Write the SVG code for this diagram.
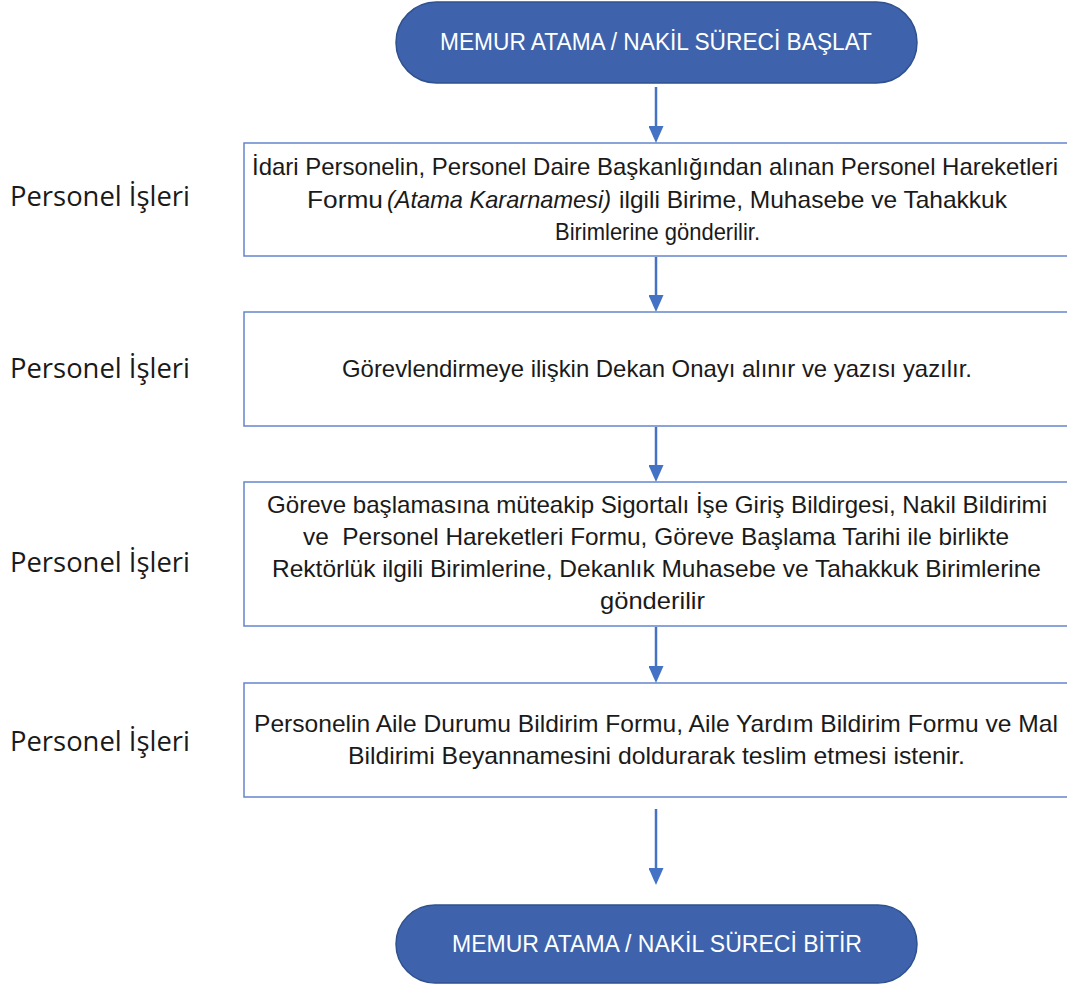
<svg xmlns="http://www.w3.org/2000/svg" width="1067" height="984" viewBox="0 0 1067 984">
<style>
.term{fill:#3E63AC;stroke:#2F528F;stroke-width:1.5}
.box{fill:#FFFFFF;stroke:#6485CB;stroke-width:1.5}
.tt{font-family:"Liberation Sans",Arial,sans-serif;font-size:23px;fill:#FFFFFF;text-anchor:middle}
.bt{font-family:"Liberation Sans",Arial,sans-serif;font-size:24px;fill:#1A1A1A}
.lbl{font-family:"Open Sans","Liberation Sans",sans-serif;font-size:27px;fill:#1A1A1A}
.conn{stroke:#4472C4;stroke-width:2.5;fill:none}
</style>
<defs>
<marker id="ah" viewBox="0 0 17 15" refX="7" refY="7.5" markerWidth="17" markerHeight="15" markerUnits="userSpaceOnUse" orient="auto">
<path d="M0,0 L17,7.5 L0,15 z" fill="#4472C4"/>
</marker>
</defs>
<rect width="1067" height="984" fill="#FFFFFF"/>

<g id="connectors">
<line class="conn" x1="656" y1="87" x2="656" y2="133" marker-end="url(#ah)"/>
<line class="conn" x1="656" y1="257" x2="656" y2="302" marker-end="url(#ah)"/>
<line class="conn" x1="656" y1="427" x2="656" y2="472" marker-end="url(#ah)"/>
<line class="conn" x1="656" y1="627" x2="656" y2="673" marker-end="url(#ah)"/>
<line class="conn" x1="656" y1="809" x2="656" y2="875" marker-end="url(#ah)"/>
</g>

<g id="start">
<rect class="term" x="396" y="2" width="521" height="81" rx="40.5"/>
<text class="tt" x="656" y="50" textLength="432" lengthAdjust="spacingAndGlyphs">MEMUR ATAMA / NAKİL SÜRECİ BAŞLAT</text>
</g>

<g id="step1">
<rect class="box" x="244" y="143" width="835" height="113"/>
<text class="bt" x="252" y="175" textLength="806" lengthAdjust="spacingAndGlyphs">İdari Personelin, Personel Daire Başkanlığından alınan Personel Hareketleri</text>
<text class="bt" x="307" y="208" textLength="76" lengthAdjust="spacingAndGlyphs">Formu</text>
<text class="bt" x="387" y="208" textLength="224" lengthAdjust="spacingAndGlyphs" font-style="italic">(Atama Kararnamesi)</text>
<text class="bt" x="619" y="208" textLength="388" lengthAdjust="spacingAndGlyphs">ilgili Birime, Muhasebe ve Tahakkuk</text>
<text class="bt" x="555" y="240" textLength="205" lengthAdjust="spacingAndGlyphs">Birimlerine gönderilir.</text>
</g>
<text id="lbl1" class="lbl" x="10" y="206" textLength="180" lengthAdjust="spacingAndGlyphs">Personel İşleri</text>

<g id="step2">
<rect class="box" x="244" y="312" width="835" height="114"/>
<text class="bt" x="342" y="377" textLength="630" lengthAdjust="spacingAndGlyphs">Görevlendirmeye ilişkin Dekan Onayı alınır ve yazısı yazılır.</text>
</g>
<text id="lbl2" class="lbl" x="10" y="378" textLength="180" lengthAdjust="spacingAndGlyphs">Personel İşleri</text>

<g id="step3">
<rect class="box" x="244" y="482" width="835" height="144"/>
<text class="bt" x="267" y="513" textLength="780" lengthAdjust="spacingAndGlyphs">Göreve başlamasına müteakip Sigortalı İşe Giriş Bildirgesi, Nakil Bildirimi</text>
<text class="bt" x="303" y="545" textLength="706" lengthAdjust="spacingAndGlyphs" xml:space="preserve">ve  Personel Hareketleri Formu, Göreve Başlama Tarihi ile birlikte</text>
<text class="bt" x="272" y="577" textLength="769" lengthAdjust="spacingAndGlyphs">Rektörlük ilgili Birimlerine, Dekanlık Muhasebe ve Tahakkuk Birimlerine</text>
<text class="bt" x="600" y="609" textLength="105" lengthAdjust="spacingAndGlyphs">gönderilir</text>
</g>
<text id="lbl3" class="lbl" x="10" y="572" textLength="180" lengthAdjust="spacingAndGlyphs">Personel İşleri</text>

<g id="step4">
<rect class="box" x="244" y="683" width="835" height="114"/>
<text class="bt" x="254" y="732" textLength="804" lengthAdjust="spacingAndGlyphs">Personelin Aile Durumu Bildirim Formu, Aile Yardım Bildirim Formu ve Mal</text>
<text class="bt" x="348" y="764" textLength="617" lengthAdjust="spacingAndGlyphs">Bildirimi Beyannamesini doldurarak teslim etmesi istenir.</text>
</g>
<text id="lbl4" class="lbl" x="10" y="751" textLength="180" lengthAdjust="spacingAndGlyphs">Personel İşleri</text>

<g id="end">
<rect class="term" x="396" y="905" width="521" height="78" rx="39"/>
<text class="tt" x="657" y="952" textLength="410" lengthAdjust="spacingAndGlyphs">MEMUR ATAMA / NAKİL SÜRECİ BİTİR</text>
</g>
</svg>
